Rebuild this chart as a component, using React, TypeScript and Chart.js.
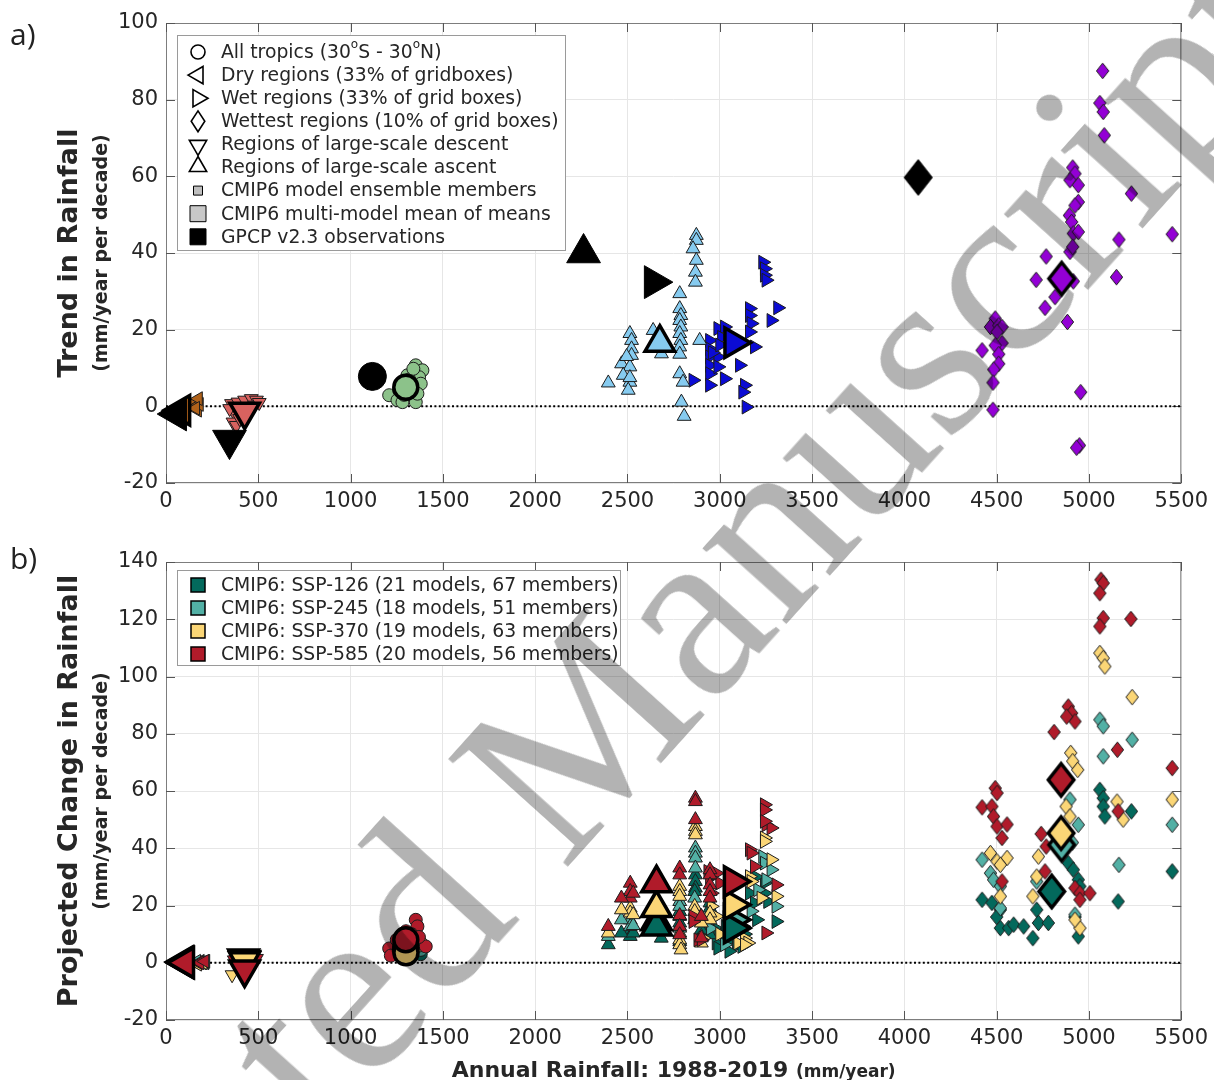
import React, { useEffect, useRef } from 'react';
import { Chart, registerables } from 'chart.js';
Chart.register(...registerables);

type P = [number, number];

// ---------------- axes ----------------
const xMin = 0, xMax = 5500, xStep = 500;
const aYMin = -20, aYMax = 100, aYStep = 20;
const bYMin = -20, bYMax = 140, bYStep = 20;

// ---------------- text ----------------
const aYTitle = 'Trend in Rainfall';
const bYTitle = 'Projected Change in Rainfall';
const yUnits = '(mm/year per decade)';
const xTitle = 'Annual Rainfall: 1988-2019';
const xUnits = '(mm/year)';
const legendALabels = [
  'All tropics (30^oS - 30^oN)',
  'Dry regions (33% of gridboxes)',
  'Wet regions (33% of grid boxes)',
  'Wettest regions (10% of grid boxes)',
  'Regions of large-scale descent',
  'Regions of large-scale ascent',
  'CMIP6 model ensemble members',
  'CMIP6 multi-model mean of means',
  'GPCP v2.3 observations',
];
const legendBLabels = [
  'CMIP6: SSP-126 (21 models, 67 members)',
  'CMIP6: SSP-245 (18 models, 51 members)',
  'CMIP6: SSP-370 (19 models, 63 members)',
  'CMIP6: SSP-585 (20 models, 56 members)',
];
const watermark = 'Accepted Manuscript';

// ---------------- panel a data ----------------
const aTropicsObs: P[] = [[1118, 7.8]];
const aTropicsMean: P[] = [[1299, 5.0]];
const aTropicsMembers: P[] = [[1353, 10.7], [1389, 9.4], [1371, 7.6], [1380, 5.9], [1209, 2.9], [1254, 1.6], [1281, 1.1], [1353, 1.1], [1362, 3.3], [1308, 8.1], [1263, 4.2], [1317, 7.0], [1340, 9.8], [1290, 3.0]];

const aDryObs: P[] = [[58, -2]];
const aDryMean: P[] = [[82, -1]];
const aDryMembers: P[] = [[150, 1], [165, 0], [170, -1], [180, 0.5], [175, 2], [160, -0.5]];

const aDescentObs: P[] = [[344, -8.8]];
const aDescentMean: P[] = [[426, -1.4]];
const aDescentMembers: P[] = [[355, 0.7], [390, 1.1], [426, 1.6], [462, 2.0], [490, 1.6], [480, 0.3], [372, -1.9], [363, -4.1], [381, -5.0], [399, -3.2], [345, -0.6], [505, 1.0]];

const aAscentObs: P[] = [[2262, 40.0]];
const aAscentMean: P[] = [[2675, 16.6]];
const aAscentMembers: P[] = [[2873, 44.6], [2873, 43.3], [2855, 41.1], [2873, 38.1], [2868, 35.0], [2868, 32.4], [2783, 29.4], [2783, 25.5], [2789, 23.7], [2783, 22.4], [2789, 20.7], [2783, 19.0], [2789, 17.2], [2783, 15.5], [2783, 13.6], [2783, 8.5], [2801, 6.3], [2792, 1.1], [2807, -2.6], [2513, 19.0], [2522, 17.2], [2522, 15.0], [2522, 13.3], [2468, 11.1], [2513, 10.3], [2477, 8.1], [2513, 6.3], [2504, 4.2], [2396, 6.1], [2639, 19.8], [2684, 13.7], [2891, 17.2], [2495, 13.0], [2513, 7.5]];

const aWetObs: P[] = [[2643, 32.4]];
const aWetMean: P[] = [[3074, 16.6]];
const aWetMembers: P[] = [[3233, 37.6], [3242, 35.9], [3242, 34.2], [3251, 32.9], [3314, 25.7], [3278, 22.4], [3161, 25.5], [3161, 23.7], [3170, 21.6], [3161, 19.4], [3188, 15.5], [3107, 10.7], [3026, 7.2], [3134, 5.5], [3125, 3.7], [3143, -0.2], [2990, 20.3], [3026, 20.7], [2945, 17.2], [2945, 15.0], [2945, 12.9], [2945, 10.7], [2945, 8.5], [2945, 5.5], [2990, 12.9], [2990, 10.3], [2855, 6.8], [3010, 18.0], [3050, 15.0], [2960, 14.0], [3000, 16.0]];

const aWettestObs: P[] = [[4075, 59.7]];
const aWettestMean: P[] = [[4852, 33.3]];
const aWettestMembers: P[] = [[5074, 87.5], [5059, 79.1], [5077, 76.8], [5083, 70.7], [4912, 62.3], [4924, 60.7], [4897, 59.0], [4942, 57.7], [5230, 55.5], [4942, 53.3], [4924, 52.4], [4894, 49.8], [4906, 48.1], [4915, 45.1], [4942, 45.5], [4897, 40.3], [4912, 41.6], [5162, 43.5], [5451, 44.9], [5149, 33.7], [4768, 39.1], [4714, 33.0], [4915, 32.6], [4816, 28.5], [4762, 25.7], [4883, 22.0], [4492, 22.9], [4466, 20.7], [4511, 21.1], [4529, 20.7], [4502, 19.4], [4529, 16.5], [4492, 15.9], [4421, 14.6], [4511, 13.6], [4511, 11.1], [4484, 9.6], [4480, 6.2], [4480, -0.9], [4955, 3.7], [4948, -10.2], [4933, -10.8]];

// ---------------- panel b data (scenario means: 126, 245, 370, 585) ----------------
const bTropicsMeans: P[] = [[1299, 4.5], [1299, 5.5], [1300, 3.5], [1299, 8.0]];
const bDryMeans: P[] = [[95, 0.3], [100, 0.3], [100, 0], [103, 0]];
const bDescentMeans: P[] = [[420, 1.5], [425, 1.0], [425, 0.5], [426, -2.4]];
const bAscentMeans: P[] = [[2657, 12.7], [2657, 14.5], [2657, 19.1], [2657, 27.8]];
const bWetMeans: P[] = [[3071, 12.1], [3071, 15.0], [3071, 20.3], [3071, 28.4]];
const bWettestMeans: P[] = [[4798, 24.9], [4852, 41.2], [4849, 45.3], [4849, 63.9]];

const bTropics126: P[] = [[1250, 3], [1300, 2], [1340, 4], [1380, 3], [1270, 5], [1320, 1.5]];
const bTropics245: P[] = [[1260, 4], [1310, 3], [1350, 5], [1380, 4.5], [1290, 6]];
const bTropics370: P[] = [[1240, 4], [1290, 2], [1330, 3.5], [1370, 6], [1310, 5], [1380, 7]];
const bTropics585: P[] = [[1209, 5], [1218, 2.5], [1353, 15], [1362, 12.7], [1407, 5.7], [1250, 8], [1330, 10], [1280, 6], [1370, 9], [1300, 11]];

const bDry126: P[] = [[160, 0], [185, 0.5], [210, 0]];
const bDry245: P[] = [[165, 0.5], [195, 0], [215, 0.5]];
const bDry370: P[] = [[170, -0.5], [200, 0]];
const bDry585: P[] = [[175, 0], [183, 0], [210, 0.5]];

const bDescent126: P[] = [[380, 1], [420, 2], [450, 1.5], [470, 0.5]];
const bDescent245: P[] = [[390, 0.5], [430, 1.5], [460, 1]];
const bDescent370: P[] = [[358, -4.2], [400, 0], [440, 1], [475, 1.5]];
const bDescent585: P[] = [[370, 1], [410, 2], [455, 2], [490, 1.5]];

const bAscent126: P[] = [[2396, 6.3], [2515, 10.9], [2515, 9.2], [2467, 10.4], [2531, 10.4], [2683, 8.6], [2783, 17.9], [2783, 16.2], [2783, 13.9], [2868, 30.7], [2868, 28.4], [2868, 26.1], [2864, 24.9], [2864, 15.0], [2947, 20.9], [2947, 19.1], [2947, 12.7], [2947, 9.8], [2900, 11.5], [2783, 7.4]];
const bAscent245: P[] = [[2396, 9.2], [2515, 15.0], [2515, 12.7], [2467, 15.0], [2783, 21.4], [2783, 19.7], [2783, 12.1], [2868, 40.1], [2868, 38.3], [2868, 36.6], [2868, 33.1], [2864, 22.6], [2900, 9.2], [2947, 16.0], [2531, 13.0]];
const bAscent370: P[] = [[2396, 10.4], [2515, 19.1], [2515, 17.4], [2467, 18.5], [2531, 16.8], [2783, 26.7], [2783, 24.9], [2783, 23.2], [2783, 10.4], [2783, 8.0], [2783, 6.3], [2868, 47.6], [2868, 45.9], [2868, 44.7], [2864, 19.7], [2864, 17.9], [2947, 17.4], [2947, 15.0], [2900, 13.9], [2900, 6.9], [2790, 4.5]];
const bAscent585: P[] = [[2396, 12.7], [2515, 27.8], [2515, 24.9], [2515, 22.6], [2467, 22.6], [2531, 24.3], [2783, 33.1], [2783, 30.7], [2783, 16.5], [2783, 12.7], [2868, 57.5], [2868, 56.3], [2868, 50.0], [2947, 32.5], [2947, 30.7], [2947, 27.2], [2947, 24.9], [2947, 22.6], [2900, 16.2], [2900, 8.7], [2783, 9.8]];

const bWet126: P[] = [[3161, 24.3], [3188, 20.9], [3242, 27.8], [3242, 24.3], [3260, 21.4], [3305, 14.4], [2990, 11.5], [3026, 9.8], [2981, 6.9], [2990, 5.1], [3030, 12.7], [3060, 8.0], [3090, 6.0], [3120, 5.7], [3134, 10.0], [3100, 11.0], [3050, 4.0], [3200, 15.0], [3195, 30.0]];
const bWet245: P[] = [[3233, 37.1], [3242, 34.8], [3278, 32.5], [3206, 25.5], [3305, 19.7], [3026, 6.3], [3170, 18.0], [3250, 29.0], [2950, 12.0], [3080, 14.0]];
const bWet370: P[] = [[3242, 43.6], [3242, 42.4], [3278, 36.0], [3161, 30.1], [3170, 28.4], [3224, 22.6], [3305, 23.2], [2954, 19.7], [2981, 16.2], [2909, 8.6], [3134, 8.6], [3152, 6.9], [3098, 6.9], [3134, 6.3], [3000, 10.0], [3060, 17.0]];
const bWet585: P[] = [[3251, 48.2], [3278, 47.1], [3242, 55.2], [3242, 53.4], [3242, 49.4], [3161, 39.5], [3170, 38.3], [3188, 33.6], [3305, 27.2], [2936, 31.9], [2945, 29.6], [2981, 31.3], [3000, 27.8], [2954, 24.3], [2855, 16.2], [2855, 14.4], [3098, 15.0], [3125, 12.7], [2882, 8.0], [2900, 8.0], [3250, 10.4]];

const bWettest126: P[] = [[5059, 60.4], [5077, 57.5], [5077, 54.6], [5086, 51.1], [5230, 52.9], [5451, 31.9], [5158, 21.4], [4421, 22.0], [4474, 20.9], [4520, 18.5], [4520, 12.1], [4565, 12.1], [4592, 13.3], [4646, 12.7], [4696, 8.6], [4717, 18.5], [4726, 13.9], [4780, 13.9], [4888, 34.8], [4915, 32.5], [4942, 29.0], [4951, 26.7], [4942, 9.2], [4924, 16.0], [4500, 16.0]];
const bWettest245: P[] = [[5059, 84.9], [5077, 82.6], [5234, 77.9], [5077, 72.1], [5451, 48.2], [5162, 34.2], [4421, 36.0], [4466, 31.3], [4483, 29.0], [4520, 26.7], [4520, 19.1], [4897, 57.0], [4942, 48.2], [4717, 28.4], [4924, 16.8], [4910, 42.0]];
const bWettest370: P[] = [[5059, 108.2], [5077, 106.4], [5086, 103.5], [5234, 92.8], [4901, 73.3], [4912, 70.4], [4939, 67.4], [4876, 54.6], [4897, 51.1], [5152, 56.3], [5185, 50.0], [5451, 57.0], [4466, 38.3], [4502, 35.4], [4556, 36.6], [4520, 34.2], [4726, 37.1], [4717, 30.1], [4696, 23.2], [4520, 23.2], [4951, 12.1], [4924, 15.0]];
const bWettest585: P[] = [[5065, 133.8], [5077, 132.6], [5059, 129.1], [5077, 120.4], [5059, 117.5], [5227, 120.1], [4888, 89.5], [4906, 87.2], [4924, 84.3], [4879, 86.0], [4811, 80.6], [5154, 74.4], [5451, 68.0], [4492, 61.0], [4502, 59.3], [4421, 54.3], [4474, 54.6], [4483, 51.1], [4502, 47.6], [4529, 43.6], [4556, 48.3], [4741, 45.0], [4768, 40.6], [4762, 31.9], [4529, 28.4], [5158, 52.9], [4924, 26.1], [4951, 24.3], [5005, 24.3], [4951, 22.0]];

const zeroLine: P[] = [[xMin, 0], [xMax, 0]];

// ---------------- styles ----------------
const cTropics = '#8cc28a';
const cDry = '#b0621a';
const cDescent = '#d8625f';
const cAscent = '#86cbf0';
const cWet = '#0b0bd4';
const cWettest = '#9300d5';
const scenColors = ['#03695c', '#52b0a5', '#fbd676', '#b01b2a'];
const FONT = "'DejaVu Sans', sans-serif";
const TXT = '#262626';

type Shape = { style: string; rot: number; mem: number; mean: number; obs: number };
const SH: Record<string, Shape> = {
  tropics: { style: 'circle', rot: 0, mem: 6.5, mean: 12, obs: 14 },
  dry: { style: 'triangle', rot: -90, mem: 8, mean: 17, obs: 19.5 },
  descent: { style: 'triangle', rot: 180, mem: 8, mean: 17, obs: 19.5 },
  ascent: { style: 'triangle', rot: 0, mem: 8, mean: 17, obs: 19.5 },
  wet: { style: 'triangle', rot: 90, mem: 8, mean: 17, obs: 19 },
  wettest: { style: 'diamond', rot: 0, mem: 7, mean: 14.5, obs: 16 },
};

const pts = (a: P[]) => a.map(([x, y]) => ({ x, y }));

// tall MATLAB-like diamond drawn on a small canvas
function diamondImg(halfW: number, halfH: number, fill: string, stroke: string, lw: number) {
  const pad = Math.ceil(lw) + 1;
  const c = document.createElement('canvas');
  c.width = Math.ceil(2 * halfW + 2 * pad);
  c.height = Math.ceil(2 * halfH + 2 * pad);
  const g = c.getContext('2d')!;
  const cx = c.width / 2, cy = c.height / 2;
  g.beginPath();
  g.moveTo(cx, cy - halfH); g.lineTo(cx + halfW, cy); g.lineTo(cx, cy + halfH); g.lineTo(cx - halfW, cy); g.closePath();
  g.fillStyle = fill; g.fill();
  g.strokeStyle = stroke; g.lineWidth = lw; g.lineJoin = 'miter'; g.stroke();
  return c;
}

function markerDs(data: P[], sh: Shape, kind: 'mem' | 'mean' | 'obs', color: string, order: number) {
  const r = sh[kind];
  const fill = kind === 'obs' ? '#000' : color;
  const edge = kind === 'mem' ? '#1c1c1c' : '#000';
  const bw = kind === 'mean' ? 3.5 : 1;
  const style = sh.style === 'diamond' ? diamondImg(r * 0.88, r * 1.12, fill, edge, bw) : sh.style;
  return {
    data: pts(data),
    pointStyle: style,
    rotation: sh.rot,
    pointRadius: r,
    pointHoverRadius: r,
    backgroundColor: fill,
    borderColor: edge,
    borderWidth: bw,
    showLine: false,
    clip: false as const,
    order,
  };
}

const zeroDs = () => ({
  data: pts(zeroLine),
  showLine: true,
  pointRadius: 0,
  borderColor: '#000',
  borderWidth: 2,
  borderDash: [2, 2.4],
  order: 200,
});

// ---------------- drawing helpers ----------------
function drawFrame(chart: any) {
  const { ctx, chartArea: ca, scales } = chart;
  ctx.save();
  ctx.strokeStyle = '#7d7d7d';
  ctx.lineWidth = 1;
  ctx.strokeRect(ca.left + 0.5, ca.top + 0.5, ca.right - ca.left - 1, ca.bottom - ca.top - 1);
  const L = 9;
  ctx.strokeStyle = '#555';
  ctx.beginPath();
  scales.x.ticks.forEach((t: any) => {
    const px = Math.round(scales.x.getPixelForValue(t.value)) + 0.5;
    ctx.moveTo(px, ca.bottom); ctx.lineTo(px, ca.bottom - L);
    ctx.moveTo(px, ca.top); ctx.lineTo(px, ca.top + L);
  });
  scales.y.ticks.forEach((t: any) => {
    const py = Math.round(scales.y.getPixelForValue(t.value)) + 0.5;
    ctx.moveTo(ca.left, py); ctx.lineTo(ca.left + L, py);
    ctx.moveTo(ca.right, py); ctx.lineTo(ca.right - L, py);
  });
  ctx.stroke();
  ctx.restore();
}

function drawYTitle(ctx: CanvasRenderingContext2D, title: string, cy: number, xMain: number, xSub: number) {
  ctx.save();
  ctx.fillStyle = TXT;
  ctx.textAlign = 'center';
  ctx.textBaseline = 'alphabetic';
  ctx.translate(xMain, cy);
  ctx.rotate(-Math.PI / 2);
  ctx.font = `bold 27px ${FONT}`;
  ctx.fillText(title, 0, 0);
  ctx.restore();
  ctx.save();
  ctx.fillStyle = TXT;
  ctx.textAlign = 'center';
  ctx.translate(xSub, cy);
  ctx.rotate(-Math.PI / 2);
  ctx.font = `bold 19px ${FONT}`;
  ctx.fillText(yUnits, 0, 0);
  ctx.restore();
}

function drawRich(ctx: CanvasRenderingContext2D, text: string, x: number, y: number) {
  const parts = text.split('^o');
  let cx = x;
  parts.forEach((p, i) => {
    ctx.font = `18.8px ${FONT}`;
    ctx.fillText(p, cx, y);
    cx += ctx.measureText(p).width;
    if (i < parts.length - 1) {
      ctx.font = `12px ${FONT}`;
      ctx.fillText('o', cx, y - 8);
      cx += ctx.measureText('o').width;
    }
  });
}

function symbol(ctx: CanvasRenderingContext2D, kind: string, x: number, y: number, r: number, fill: string | null, lw: number) {
  ctx.beginPath();
  if (kind === 'circle') ctx.arc(x, y, r, 0, Math.PI * 2);
  else if (kind === 'square') ctx.rect(x - r, y - r, 2 * r, 2 * r);
  else if (kind === 'diamond') {
    ctx.moveTo(x, y - r * 1.3); ctx.lineTo(x + r * 0.85, y); ctx.lineTo(x, y + r * 1.3); ctx.lineTo(x - r * 0.85, y); ctx.closePath();
  } else {
    const rot = { up: 0, right: 90, down: 180, left: -90 }[kind] as number;
    let a = (rot * Math.PI) / 180;
    for (let i = 0; i < 3; i++) {
      const px = x + Math.sin(a) * r, py = y - Math.cos(a) * r;
      if (i === 0) ctx.moveTo(px, py); else ctx.lineTo(px, py);
      a += (2 * Math.PI) / 3;
    }
    ctx.closePath();
  }
  if (fill) { ctx.fillStyle = fill; ctx.fill(); }
  ctx.strokeStyle = '#000';
  ctx.lineWidth = lw;
  ctx.stroke();
}

function drawLegendA(ctx: CanvasRenderingContext2D) {
  ctx.save();
  ctx.fillStyle = '#fff';
  ctx.fillRect(177, 35, 388, 215);
  ctx.strokeStyle = '#9a9a9a';
  ctx.lineWidth = 1;
  ctx.strokeRect(177.5, 35.5, 388, 215);
  const kinds = ['circle', 'left', 'right', 'diamond', 'down', 'up', 'square', 'square', 'square'];
  const sizes = [7, 10, 10, 8, 10, 10, 4.5, 8, 8];
  const fills = [null, null, null, null, null, null, '#bfbfbf', '#c8c8c8', '#000'];
  legendALabels.forEach((lab, i) => {
    const y = 52 + i * 23.1;
    symbol(ctx, kinds[i], 198, y + (kinds[i] === 'down' ? 1 : kinds[i] === 'up' ? -1 : 0), sizes[i], fills[i], i >= 6 ? 1 : 1.6);
    ctx.fillStyle = TXT;
    ctx.textBaseline = 'middle';
    drawRich(ctx, lab, 221, y + 1);
  });
  ctx.restore();
}

function drawLegendB(ctx: CanvasRenderingContext2D) {
  ctx.save();
  ctx.fillStyle = '#fff';
  ctx.fillRect(177, 30, 443, 95);
  ctx.strokeStyle = '#9a9a9a';
  ctx.lineWidth = 1;
  ctx.strokeRect(177.5, 30.5, 443, 95);
  legendBLabels.forEach((lab, i) => {
    const y = 45 + i * 23;
    symbol(ctx, 'square', 198, y, 7, scenColors[i], 1.5);
    ctx.fillStyle = TXT;
    ctx.textBaseline = 'middle';
    ctx.font = `18.8px ${FONT}`;
    ctx.fillText(lab, 221, y + 1);
  });
  ctx.restore();
}

function drawPanelLabel(ctx: CanvasRenderingContext2D, t: string, y: number) {
  ctx.save();
  ctx.fillStyle = '#222';
  ctx.font = `30px 'Open Sans', sans-serif`;
  ctx.textBaseline = 'alphabetic';
  ctx.fillText(t, 10, y);
  ctx.restore();
}

function drawXTitle(chart: any, baseY: number) {
  const { ctx, chartArea: ca } = chart;
  ctx.save();
  ctx.fillStyle = TXT;
  ctx.textBaseline = 'alphabetic';
  ctx.font = `bold 22px ${FONT}`;
  const w1 = ctx.measureText(xTitle + ' ').width;
  ctx.font = `bold 17px ${FONT}`;
  const w2 = ctx.measureText(xUnits).width;
  const x0 = (ca.left + ca.right) / 2 - (w1 + w2) / 2;
  ctx.font = `bold 22px ${FONT}`;
  ctx.fillText(xTitle, x0, baseY);
  ctx.font = `bold 17px ${FONT}`;
  ctx.fillText(xUnits, x0 + w1, baseY);
  ctx.restore();
}

function makeOptions(yMin: number, yMax: number, yStep: number, padTop: number, xH: number) {
  return {
    responsive: false,
    animation: false as const,
    devicePixelRatio: 1,
    layout: { padding: { top: padTop, right: 29, left: 0, bottom: 0 } },
    plugins: { legend: { display: false }, tooltip: { enabled: false } },
    events: [] as any[],
    scales: {
      x: {
        type: 'linear' as const, min: xMin, max: xMax,
        ticks: { stepSize: xStep, color: TXT, font: { family: FONT, size: 21 }, padding: 6, maxRotation: 0, autoSkip: false, callback: (v: any) => String(v) },
        grid: { color: '#e6e6e6', drawTicks: false },
        border: { display: false },
        afterFit: (s: any) => { s.height = xH; },
      },
      y: {
        type: 'linear' as const, min: yMin, max: yMax,
        ticks: { stepSize: yStep, color: TXT, font: { family: FONT, size: 21 }, padding: 8, callback: (v: any) => String(v) },
        grid: { color: '#e6e6e6', drawTicks: false },
        border: { display: false },
        afterFit: (s: any) => { s.width = 166; },
      },
    },
  };
}

export default function App() {
  const refA = useRef<HTMLCanvasElement>(null);
  const refB = useRef<HTMLCanvasElement>(null);

  useEffect(() => {
    const aDatasets = [
      zeroDs(),
      markerDs(aTropicsMembers, SH.tropics, 'mem', cTropics, 50),
      markerDs(aDryMembers, SH.dry, 'mem', cDry, 50),
      markerDs(aDescentMembers, SH.descent, 'mem', cDescent, 50),
      markerDs(aAscentMembers, SH.ascent, 'mem', cAscent, 50),
      markerDs(aWetMembers, SH.wet, 'mem', cWet, 50),
      markerDs(aWettestMembers, SH.wettest, 'mem', cWettest, 50),
      markerDs(aTropicsMean, SH.tropics, 'mean', cTropics, 10),
      markerDs(aDryMean, SH.dry, 'mean', cDry, 10),
      markerDs(aDescentMean, SH.descent, 'mean', cDescent, 10),
      markerDs(aAscentMean, SH.ascent, 'mean', cAscent, 10),
      markerDs(aWetMean, SH.wet, 'mean', cWet, 10),
      markerDs(aWettestMean, SH.wettest, 'mean', cWettest, 10),
      markerDs(aTropicsObs, SH.tropics, 'obs', '#000', 5),
      markerDs(aDryObs, SH.dry, 'obs', '#000', 5),
      markerDs(aDescentObs, SH.descent, 'obs', '#000', 5),
      markerDs(aAscentObs, SH.ascent, 'obs', '#000', 5),
      markerDs(aWetObs, SH.wet, 'obs', '#000', 5),
      markerDs(aWettestObs, SH.wettest, 'obs', '#000', 5),
    ];

    const membersB: Record<string, P[][]> = {
      tropics: [bTropics126, bTropics245, bTropics370, bTropics585],
      dry: [bDry126, bDry245, bDry370, bDry585],
      descent: [bDescent126, bDescent245, bDescent370, bDescent585],
      ascent: [bAscent126, bAscent245, bAscent370, bAscent585],
      wet: [bWet126, bWet245, bWet370, bWet585],
      wettest: [bWettest126, bWettest245, bWettest370, bWettest585],
    };
    const meansB: Record<string, P[]> = {
      tropics: bTropicsMeans, dry: bDryMeans, descent: bDescentMeans,
      ascent: bAscentMeans, wet: bWetMeans, wettest: bWettestMeans,
    };
    const meanOrder = [13, 14, 12, 11];
    const bDatasets: any[] = [zeroDs()];
    Object.keys(membersB).forEach((k) => {
      membersB[k].forEach((arr, si) => bDatasets.push(markerDs(arr, SH[k], 'mem', scenColors[si], 54 - si)));
    });
    Object.keys(meansB).forEach((k) => {
      meansB[k].forEach((p, si) => bDatasets.push(markerDs([p], SH[k], 'mean', scenColors[si], meanOrder[si])));
    });

    const chartA = new Chart(refA.current!, {
      type: 'scatter',
      data: { datasets: aDatasets as any },
      options: makeOptions(aYMin, aYMax, aYStep, 23, 57) as any,
      plugins: [{
        id: 'decorA',
        beforeDatasetsDraw: (c: any) => drawFrame(c),
        afterDatasetsDraw: (c: any) => {
          const ctx = c.ctx;
          drawLegendA(ctx);
          drawYTitle(ctx, aYTitle, (c.chartArea.top + c.chartArea.bottom) / 2, 77, 107);
          drawPanelLabel(ctx, 'a)', 45);
        },
      }],
    });
    const chartB = new Chart(refB.current!, {
      type: 'scatter',
      data: { datasets: bDatasets },
      options: makeOptions(bYMin, bYMax, bYStep, 22, 60) as any,
      plugins: [{
        id: 'decorB',
        beforeDatasetsDraw: (c: any) => drawFrame(c),
        afterDatasetsDraw: (c: any) => {
          const ctx = c.ctx;
          drawLegendB(ctx);
          drawYTitle(ctx, bYTitle, (c.chartArea.top + c.chartArea.bottom) / 2, 77, 107);
          drawPanelLabel(ctx, 'b)', 29);
          drawXTitle(c, 537);
        },
      }],
    });
    return () => { chartA.destroy(); chartB.destroy(); };
  }, []);

  return (
    <div style={{ position: 'absolute', left: 0, top: 0, width: 1214, height: 1080, overflow: 'hidden', background: '#fff' }}>
      <canvas ref={refA} width={1214} height={540} style={{ position: 'absolute', left: 0, top: 0, width: 1214, height: 540 }} />
      <canvas ref={refB} width={1214} height={540} style={{ position: 'absolute', left: 0, top: 540, width: 1214, height: 540 }} />
      <div style={{ position: 'absolute', left: 545, top: 768, width: 0, height: 0, pointerEvents: 'none', mixBlendMode: 'multiply' }}>
        <div style={{ position: 'absolute', left: 0, top: 0, transform: 'translate(-50%, -50%) rotate(-48deg)', whiteSpace: 'nowrap', fontFamily: "'Liberation Serif', serif", fontSize: 246, lineHeight: 1, color: '#b3b3b3' }}>
          {watermark}
        </div>
      </div>
    </div>
  );
}
